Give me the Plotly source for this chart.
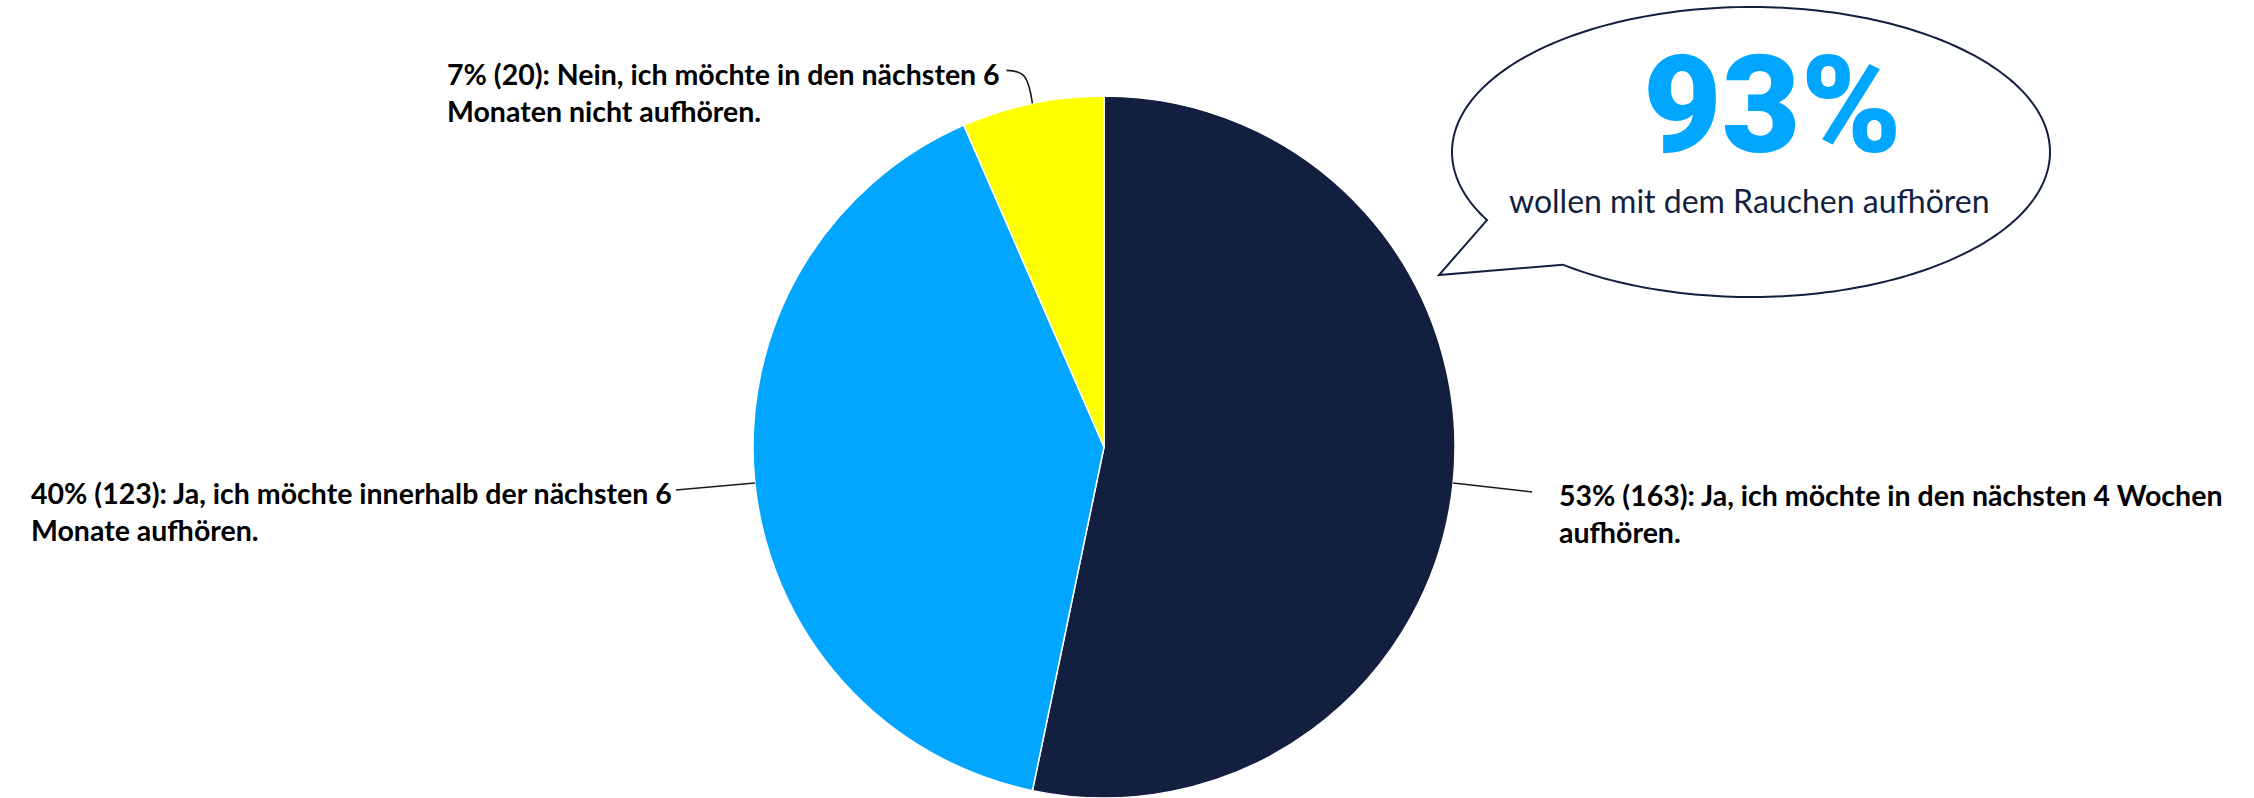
import textwrap
import numpy as np
import plotly.graph_objects as go

# --- data -------------------------------------------------------------
categories = [
    "Ja, ich möchte in den nächsten 4 Wochen aufhören.",
    "Ja, ich möchte innerhalb der nächsten 6 Monate aufhören.",
    "Nein, ich möchte in den nächsten 6 Monaten nicht aufhören.",
]
counts = [163, 123, 20]
slice_colors = ["#121f3f", "#00a6ff", "#ffff00"]
quit_flags = [True, True, False]          # slices counted in the headline share
headline_caption = "wollen mit dem Rauchen aufhören"

# --- canvas / pie geometry (pixels) ----------------------------------
W, H = 2254, 798
CX, CY, R = 1104, 447, 351

def px(x):
    return x / W

def py(y):
    return 1 - y / H

total = sum(counts)
fractions = [c / total for c in counts]
percent_text = [f"{round(f * 100)}%" for f in fractions]
quit_share = round(100 * sum(c for c, q in zip(counts, quit_flags) if q) / total)

fig = go.Figure(
    go.Pie(
        labels=categories,
        values=counts,
        sort=False,
        direction="clockwise",
        rotation=0,
        marker=dict(colors=slice_colors, line=dict(color="#ffffff", width=1.5)),
        textinfo="none",
        hoverinfo="label+value+percent",
        showlegend=False,
        domain=dict(x=[px(CX - R), px(CX + R)], y=[py(CY + R), py(CY - R)]),
    )
)

# --- outside labels with connectors ---------------------------------
# connector end offsets (dx, dy) from the slice edge, and text gap
label_style = [
    dict(dx=79, dy=9, gap=25),
    dict(dx=-79, dy=7, gap=2),
    dict(dx=-26, dy=-33, gap=4),
]
LABEL_SIZE = 28.5
LINE_H = 35

shapes = []
annotations = []
start = 0.0
for cat, cnt, frac, pct, st in zip(categories, counts, fractions, percent_text, label_style):
    mid = (start + frac / 2) * 2 * np.pi
    start += frac
    ax = CX + R * np.sin(mid)
    ay = CY - R * np.cos(mid)
    ex = ax + st["dx"]
    ey = ay + st["dy"]
    if abs(st["dy"]) > abs(st["dx"]):
        path = (f"M {px(ex)},{py(ey)} C {px(ex + 18)},{py(ey)} "
                f"{px(ax - 4)},{py(ey + 6)} {px(ax)},{py(ay)}")
    else:
        path = f"M {px(ax)},{py(ay)} L {px(ex)},{py(ey)}"
    shapes.append(dict(type="path", xref="paper", yref="paper", path=path,
                       line=dict(color="#1a1a1a", width=1.6)))
    text = "<br>".join(textwrap.wrap(f"{pct} ({cnt}): {cat}", width=50))
    right_side = st["dx"] > 0
    annotations.append(dict(
        x=px(ex + st["gap"] if right_side else ex - st["gap"]),
        y=py(ey + 2 - LINE_H / 2),
        xref="paper", yref="paper",
        xanchor="left" if right_side else "right",
        yanchor="top", align="left", showarrow=False,
        text=f"<b>{text}</b>",
        font=dict(family="Lato", size=LABEL_SIZE, color="#000000"),
    ))

# --- speech bubble ---------------------------------------------------
BX, BY, BRX, BRY = 1751, 152, 299, 145
tail_tip = (1439, 275)
t = np.radians(np.linspace(152, 129 + 360, 240))
bx = BX + BRX * np.cos(t)
by = BY + BRY * np.sin(t)
pts = [f"{px(x)},{py(y)}" for x, y in zip(bx, by)]
bubble = "M " + " L ".join(pts) + f" L {px(tail_tip[0])},{py(tail_tip[1])} Z"
shapes.append(dict(type="path", xref="paper", yref="paper", path=bubble,
                   fillcolor="#ffffff", line=dict(color="#121f3f", width=2)))

annotations.append(dict(
    x=px(1772), y=py(106), xref="paper", yref="paper",
    xanchor="center", yanchor="middle", showarrow=False,
    text=f"{quit_share}%",
    font=dict(family="Roboto", size=136, weight=900, color="#00a6ff"),
))
annotations.append(dict(
    x=px(1749), y=py(200), xref="paper", yref="paper",
    xanchor="center", yanchor="middle", showarrow=False,
    text=headline_caption,
    font=dict(family="Lato", size=32, weight=400, color="#121f3f"),
))

fig.update_layout(
    width=W, height=H,
    margin=dict(l=0, r=0, t=0, b=0),
    paper_bgcolor="#ffffff",
    plot_bgcolor="#ffffff",
    shapes=shapes,
    annotations=annotations,
)

fig.write_html("out.html")
